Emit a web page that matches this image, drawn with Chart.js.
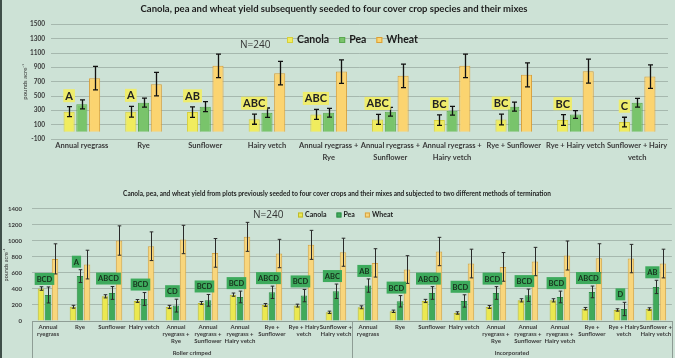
<!DOCTYPE html>
<html>
<head>
<meta charset="utf-8">
<script src="https://cdn.jsdelivr.net/npm/chart.js@4.4.1/dist/chart.umd.min.js"></script>
<style>
  html, body { margin: 0; padding: 0; background: #cde2d6; }
  #page { position: relative; width: 675px; height: 358px; overflow: hidden; background: #cde2d6; }
  #edge { position: absolute; left: 0; top: 0; width: 2px; height: 358px; background: #3f4f49; }
  canvas { position: absolute; left: 0; }
</style>
</head>
<body>
<div id="page">
  <canvas id="topChart" width="675" height="180" style="top:0"></canvas>
  <canvas id="bottomChart" width="675" height="178" style="top:180px"></canvas>
  <div id="edge"></div>
</div>
<script>
// top panel: yield after the cover crops
const topCrops = ['Annual ryegrass', 'Rye', 'Sunflower', 'Hairy vetch', ['Annual ryegrass +', 'Rye'],
  ['Annual ryegrass +', 'Sunflower'], ['Annual ryegrass +', 'Hairy vetch'], 'Rye + Sunflower',
  'Rye + Hairy vetch', ['Sunflower + Hairy', 'vetch']];
const topCanola = [281, 281, 276, 176, 243, 173, 164, 173, 164, 136];
const topCanolaErr = [70, 75, 73, 70, 70, 70, 73, 75, 75, 68];
const topPea = [384, 407, 352, 268, 267, 281, 295, 351, 243, 407];
const topPeaErr = [63, 63, 70, 65, 61, 61, 61, 63, 54, 61];
const topWheat = [749, 665, 922, 819, 842, 782, 922, 796, 847, 772];
const topWheatErr = [164, 164, 164, 164, 164, 164, 164, 168, 168, 164];
const topLetters = ['A', 'A', 'AB', 'ABC', 'ABC', 'ABC', 'BC', 'BC', 'BC', 'C'];

// bottom panel: same crops, two termination methods
const botCrops = [['Annual', 'ryegrass'], ['Rye'], ['Sunflower'], ['Hairy vetch'], ['Annual', 'ryegrass +', 'Rye'],
  ['Annual', 'ryegrass +', 'Sunflower'], ['Annual', 'ryegrass +', 'Hairy vetch'], ['Rye +', 'Sunflower'],
  ['Rye + Hairy', 'vetch'], ['Sunflower +', 'Hairy vetch']];
const termination = ['Roller crimped', 'Incorporated'];
const botCanola = [405, 178, 308, 250, 175, 225, 329, 200, 192, 108, 171, 121, 250, 100, 175, 258, 258, 154, 138, 150];
const botCanolaErr = [22, 18, 20, 18, 20, 18, 20, 18, 18, 15, 18, 15, 20, 15, 18, 20, 20, 15, 15, 15];
const botPea = [325, 560, 350, 275, 192, 258, 300, 358, 317, 371, 442, 246, 350, 250, 350, 321, 300, 363, 150, 425];
const botPeaErr = [100, 80, 80, 80, 80, 73, 73, 77, 77, 90, 83, 71, 79, 77, 79, 77, 73, 73, 83, 83];
const botWheat = [775, 704, 1004, 933, 1017, 850, 1050, 842, 950, 858, 725, 642, 867, 717, 675, 742, 817, 783, 779, 717];
const botWheatErr = [188, 179, 183, 179, 177, 179, 181, 177, 181, 175, 177, 173, 177, 179, 179, 177, 181, 181, 177, 179];
const botLetters = ['BCD', 'A', 'ABCD', 'BCD', 'CD', 'BCD', 'BCD', 'ABCD', 'BCD', 'ABC',
  'AB', 'BCD', 'ABCD', 'BCD', 'BCD', 'BCD', 'BCD', 'ABCD', 'D', 'AB'];

const sampleNote = 'N=240';
const yTitle = 'pounds acre\u207B\u00B9';
const gridColor = 'rgba(135,150,142,0.55)';
const tickColor = '#3a3a3a';
const plainNumber = v => String(v); // no thousands separator

// black whiskers from each dataset's "errors"
const errorBars = {
  id: 'errorBars',
  afterDatasetsDraw(chart, args, o) {
    const ctx = chart.ctx;
    const y = chart.scales.y;
    ctx.save();
    ctx.strokeStyle = o.color;
    ctx.lineWidth = o.width;
    chart.data.datasets.forEach((ds, i) => {
      chart.getDatasetMeta(i).data.forEach((bar, j) => {
        const hi = y.getPixelForValue(ds.data[j] + ds.errors[j]);
        const lo = y.getPixelForValue(ds.data[j] - ds.errors[j]);
        const x = Math.round(bar.x) + 0.5;
        ctx.beginPath();
        ctx.moveTo(x, hi); ctx.lineTo(x, lo);
        ctx.moveTo(x - o.cap, hi); ctx.lineTo(x + o.cap, hi);
        ctx.moveTo(x - o.cap, lo); ctx.lineTo(x + o.cap, lo);
        ctx.stroke();
      });
    });
    ctx.restore();
  }
};

// significance letters in coloured boxes
const letterTags = {
  id: 'letterTags',
  afterDatasetsDraw(chart, args, o) {
    const ctx = chart.ctx;
    const y = chart.scales.y;
    const ds = chart.data.datasets[o.anchor];
    const a = chart.getDatasetMeta(o.xFrom).data;
    const b = chart.getDatasetMeta(o.xTo).data;
    ctx.save();
    ctx.font = 'bold ' + o.size + 'px Lato';
    ctx.textAlign = 'center';
    ctx.textBaseline = 'middle';
    o.letters.forEach((t, i) => {
      const cx = (a[i].x + b[i].x) / 2 + o.shift;
      const cy = y.getPixelForValue(ds.data[i] + ds.errors[i]) - o.gap;
      const w = ctx.measureText(t).width + o.padX * 2;
      ctx.fillStyle = o.bg;
      ctx.fillRect(cx - w / 2, cy - o.h / 2, w, o.h);
      ctx.fillStyle = o.color;
      ctx.fillText(t, cx, cy + 0.5);
    });
    ctx.restore();
  }
};

// N=240 note and legend drawn inside the plot
const chartKey = {
  id: 'chartKey',
  afterDraw(chart, args, o) {
    const ctx = chart.ctx;
    ctx.save();
    ctx.textBaseline = 'middle';
    ctx.textAlign = 'left';
    ctx.font = o.noteFont;
    ctx.fillStyle = '#333';
    ctx.fillText(sampleNote, o.noteX, o.noteY);
    ctx.font = o.font;
    let x = o.x;
    chart.data.datasets.forEach(ds => {
      ctx.fillStyle = ds.backgroundColor;
      ctx.fillRect(x, o.y - o.box / 2, o.box, o.box);
      ctx.strokeStyle = ds.borderColor;
      ctx.lineWidth = 1;
      ctx.strokeRect(x + 0.5, o.y - o.box / 2 + 0.5, o.box - 1, o.box - 1);
      x += o.box + o.gap1;
      ctx.fillStyle = '#1c1c1c';
      ctx.fillText(ds.label, x, o.y);
      x += ctx.measureText(ds.label).width + o.gap2;
    });
    ctx.restore();
  }
};

// second level of the category axis (termination method)
const groupAxis = {
  id: 'groupAxis',
  afterDraw(chart, args, o) {
    const ctx = chart.ctx;
    const x = chart.scales.x;
    const bottom = chart.chartArea.bottom;
    const per = botCrops.length;
    const cw = (x.right - x.left) / chart.data.labels.length;
    ctx.save();
    ctx.strokeStyle = '#8e9d95';
    ctx.lineWidth = 1;
    ctx.font = 'bold 6px Lato';
    ctx.fillStyle = tickColor;
    ctx.textAlign = 'center';
    ctx.textBaseline = 'middle';
    termination.forEach((name, g) => {
      const l = x.getPixelForValue(g * per) - cw / 2;
      const r = x.getPixelForValue(g * per + per - 1) + cw / 2;
      [l, r].forEach(px => {
        ctx.beginPath();
        ctx.moveTo(Math.round(px) + 0.5, bottom);
        ctx.lineTo(Math.round(px) + 0.5, chart.height);
        ctx.stroke();
      });
      ctx.fillText(name, (l + r) / 2, o.y);
    });
    ctx.restore();
  }
};

new Chart(document.getElementById('topChart'), {
  type: 'bar',
  data: {
    labels: topCrops,
    datasets: [
      { label: 'Canola', data: topCanola, errors: topCanolaErr, backgroundColor: '#f0ec5e', borderColor: '#d6cf3c', borderWidth: 1 },
      { label: 'Pea', data: topPea, errors: topPeaErr, backgroundColor: '#79c46b', borderColor: '#5aa84f', borderWidth: 1 },
      { label: 'Wheat', data: topWheat, errors: topWheatErr, backgroundColor: '#fbd470', borderColor: '#d99f38', borderWidth: 1 },
    ],
  },
  options: {
    responsive: false,
    animation: false,
    datasets: { bar: { categoryPercentage: 0.62, barPercentage: 0.87 } },
    layout: { padding: { top: 0, right: 7, bottom: 0, left: 0 } },
    plugins: {
      legend: { display: false },
      tooltip: { enabled: false },
      title: {
        display: true,
        text: 'Canola, pea and wheat yield subsequently seeded to four cover crop species and their mixes',
        color: '#1e1e1e',
        font: { family: 'Lato', size: 9.5, weight: 'bold' },
        padding: { top: 3, bottom: 10 },
      },
      errorBars: { color: '#111', width: 1.3, cap: 2.5 },
      letterTags: { letters: topLetters, anchor: 0, xFrom: 0, xTo: 0, shift: 0, gap: 11, size: 11, padX: 2, h: 13, bg: '#eeec6c', color: '#222' },
      chartKey: { noteX: 240, noteY: 45, noteFont: '10px "Open Sans"', x: 287, y: 40, box: 6, gap1: 4, gap2: 10, font: 'bold 10.5px Lato' },
    },
    scales: {
      x: {
        grid: { display: false, drawTicks: false },
        border: { display: false },
        ticks: { color: tickColor, font: { family: 'Lato', size: 7.5, weight: 'bold', lineHeight: 1.6 }, padding: 1, autoSkip: false, maxRotation: 0 },
        afterFit(s) { s.height = 41; },
      },
      y: {
        min: -100,
        max: 1500,
        ticks: { stepSize: 200, callback: plainNumber, color: tickColor, font: { family: 'Lato', size: 6.5, weight: 'bold' }, padding: 6 },
        grid: { color: gridColor, drawTicks: false },
        border: { display: false },
        title: { display: true, text: yTitle, color: '#333', font: { family: 'Lato', size: 6 }, padding: { top: 21, bottom: 0 } },
        afterFit(s) { s.width = 51; },
      },
    },
  },
  plugins: [errorBars, letterTags, chartKey],
});

new Chart(document.getElementById('bottomChart'), {
  type: 'bar',
  data: {
    labels: [...botCrops, ...botCrops],
    datasets: [
      { label: 'Canola', data: botCanola, errors: botCanolaErr, backgroundColor: '#ebe850', borderColor: '#bdb930', borderWidth: 1 },
      { label: 'Pea', data: botPea, errors: botPeaErr, backgroundColor: '#40aa5b', borderColor: '#2f8e48', borderWidth: 1 },
      { label: 'Wheat', data: botWheat, errors: botWheatErr, backgroundColor: '#f8d67c', borderColor: '#d5a342', borderWidth: 1 },
    ],
  },
  options: {
    responsive: false,
    animation: false,
    datasets: { bar: { categoryPercentage: 0.66, barPercentage: 0.92 } },
    layout: { padding: { top: 0, right: 1, bottom: 0, left: 0 } },
    plugins: {
      legend: { display: false },
      tooltip: { enabled: false },
      title: {
        display: true,
        text: 'Canola, pea, and wheat yield from plots previously seeded to four cover crops and their mixes and subjected to two different methods of termination',
        color: '#1e1e1e',
        font: { family: 'Lato', size: 6.5, weight: 'bold' },
        padding: { top: 10, bottom: 11 },
      },
      errorBars: { color: '#2a2a2a', width: 1, cap: 1.8 },
      letterTags: { letters: botLetters, anchor: 1, xFrom: 0, xTo: 1, shift: 0, gap: 8, size: 7.5, padX: 2, h: 12, bg: '#3daa5c', color: '#16301c' },
      chartKey: { noteX: 253, noteY: 35, noteFont: '10px "Open Sans"', x: 298, y: 35, box: 5, gap1: 2, gap2: 10, font: 'bold 7px Lato' },
      groupAxis: { y: 173 },
    },
    scales: {
      x: {
        grid: { display: false, drawTicks: false },
        border: { display: true, color: '#8e9d95' },
        ticks: { color: tickColor, font: { family: 'Lato', size: 6, weight: 'bold', lineHeight: 1.15 }, padding: 3, autoSkip: false, maxRotation: 0 },
        afterFit(s) { s.height = 37; },
      },
      y: {
        min: 0,
        max: 1400,
        ticks: { stepSize: 200, callback: plainNumber, color: tickColor, font: { family: 'Lato', size: 6, weight: 'bold' }, padding: 10 },
        grid: { color: gridColor, drawTicks: false },
        border: { display: false },
        title: { display: true, text: yTitle, color: '#333', font: { family: 'Lato', size: 5.5 }, padding: { top: 3, bottom: 0 } },
        afterFit(s) { s.width = 32; },
      },
    },
  },
  plugins: [errorBars, letterTags, chartKey, groupAxis],
});
</script>
</body>
</html>
